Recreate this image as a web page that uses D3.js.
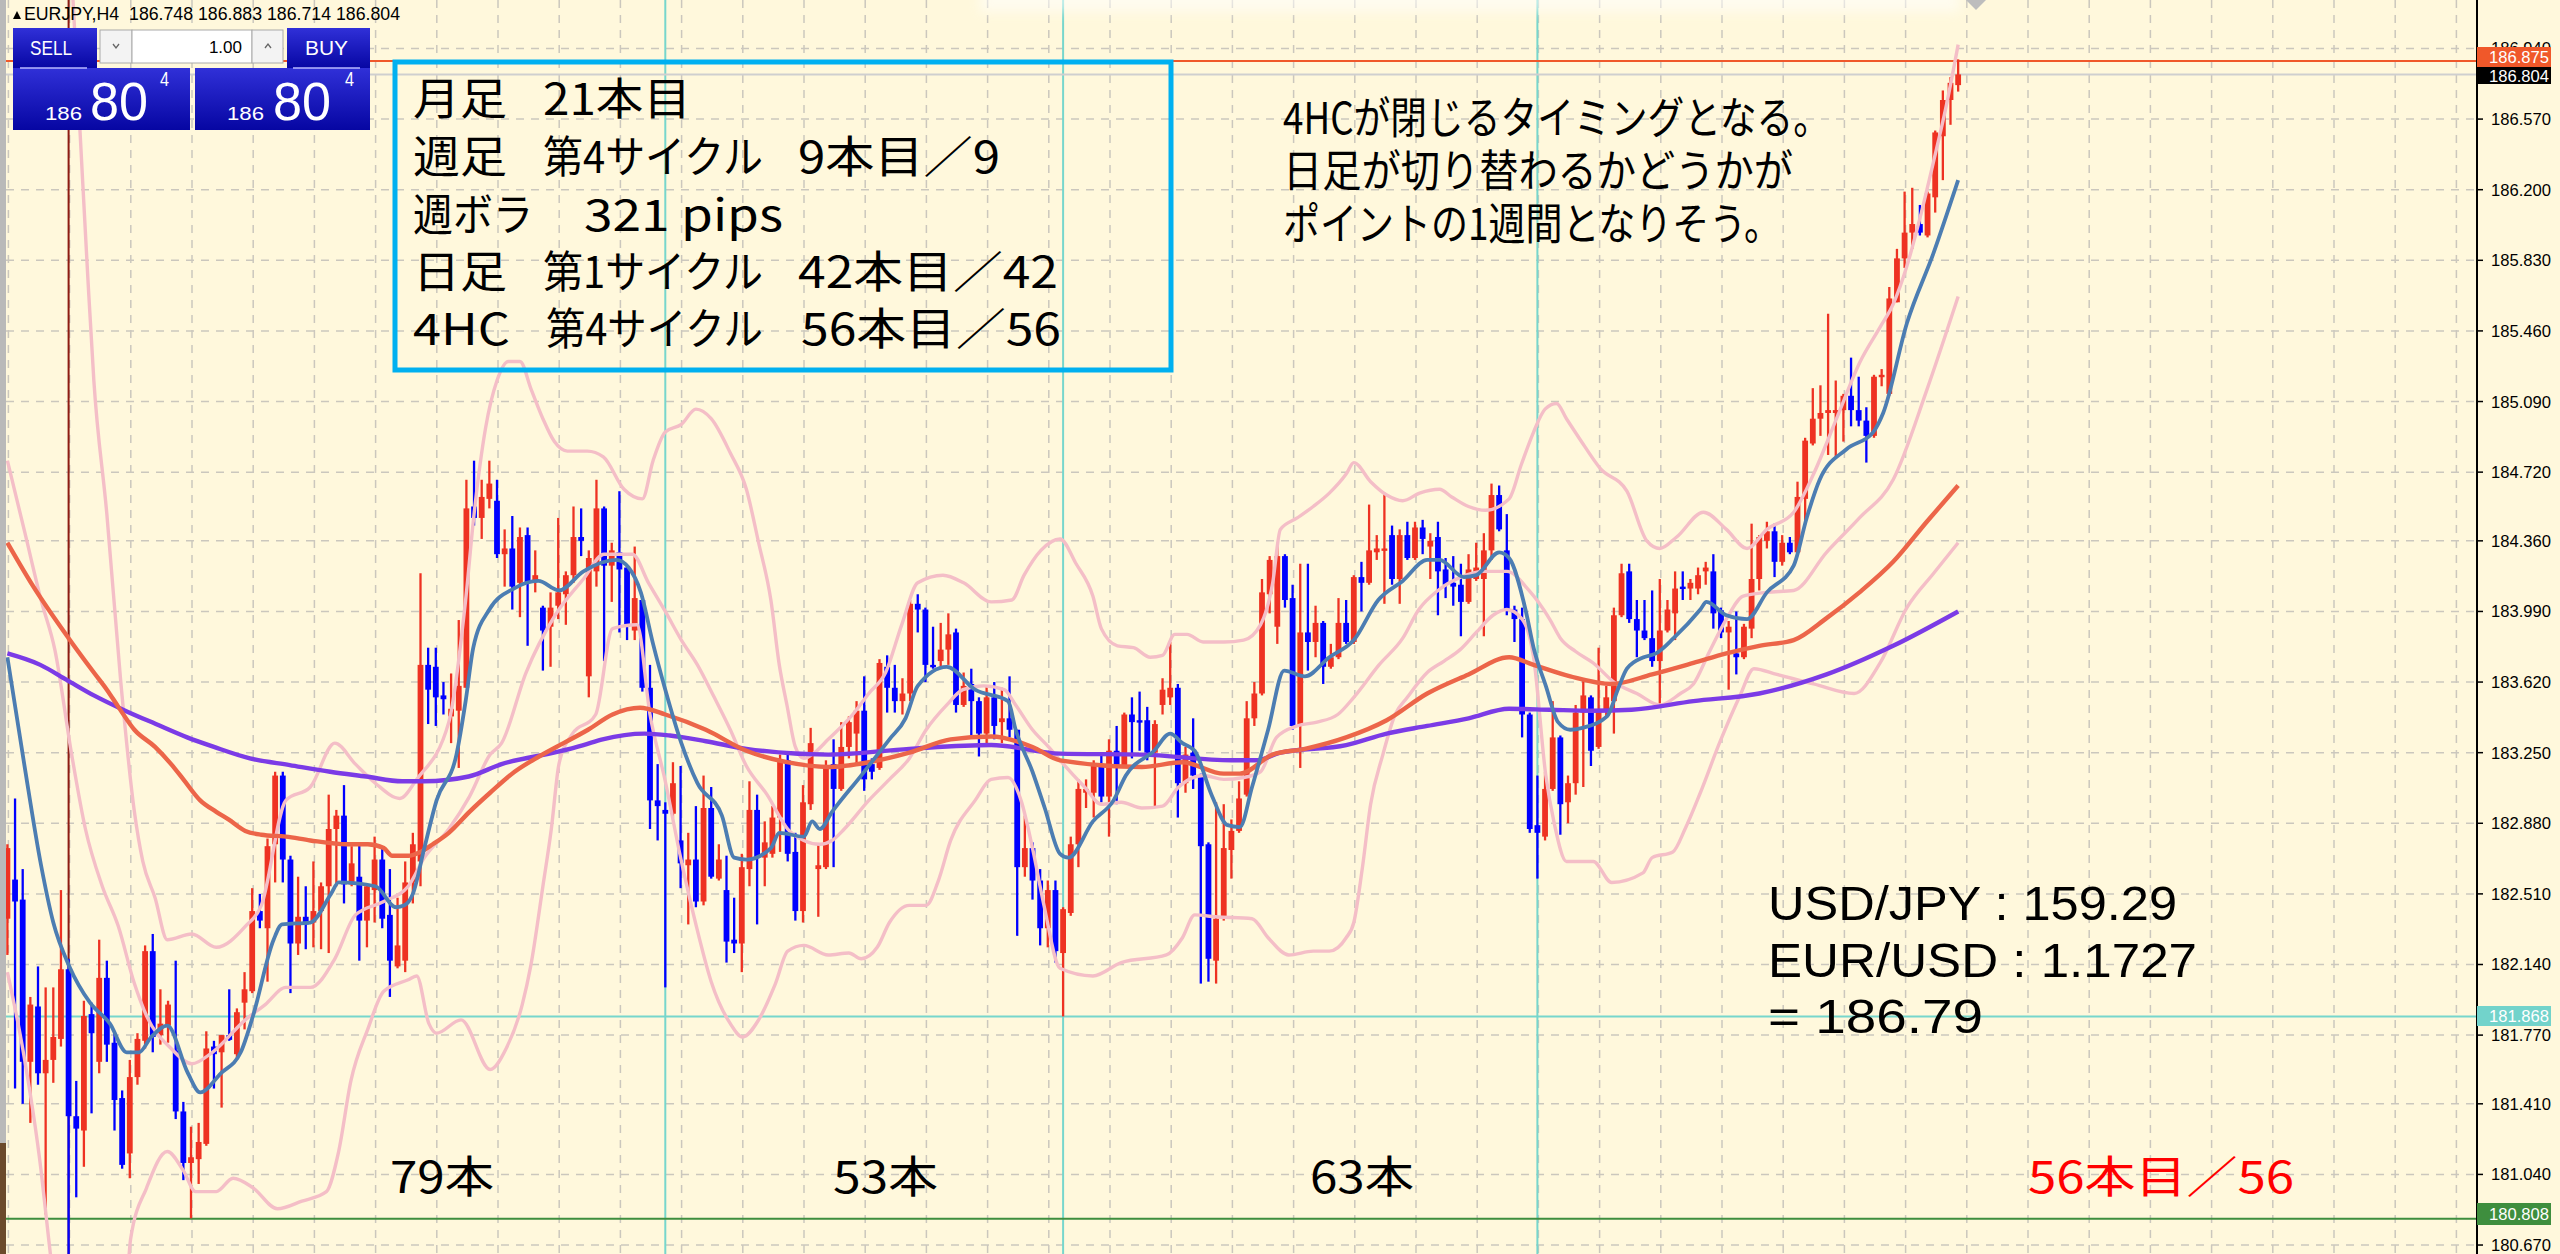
<!DOCTYPE html>
<html><head><meta charset="utf-8">
<script src="https://cdn.jsdelivr.net/npm/d3@7"></script>
<style>
html,body{margin:0;padding:0;background:#FFF8DC;overflow:hidden}
svg{display:block}
</style></head><body>
<svg id="c" width="2560" height="1254"></svg>
<script>
// ---------------- DATA ----------------
const symbolHeader = "EURJPY,H4  186.748 186.883 186.714 186.804";
const opens = [182.38,182.585,182.48,181.63,181.92,181.57,181.64,181.75,182.115,181.345,
181.27,181.88,181.63,182.07,181.73,181.44,181.15,181.55,181.74,182.21,
181.77,181.82,181.69,181.37,181.10,181.12,181.20,181.71,181.68,181.77,
181.67,181.94,182.00,182.42,182.33,182.77,183.13,182.69,182.25,182.39,
182.36,182.42,182.55,182.85,182.92,182.56,182.60,182.37,182.53,182.69,
182.40,182.13,182.16,182.57,182.68,183.71,183.70,183.55,183.44,183.47,
183.59,184.54,184.48,184.58,184.57,184.29,184.32,184.14,184.39,184.15,
184.01,183.91,184.02,184.08,184.18,184.38,183.65,184.20,184.53,184.23,
184.30,184.22,183.89,184.05,183.59,183.00,182.95,182.93,182.79,182.66,
182.69,182.47,182.96,182.59,182.53,182.27,182.25,182.64,182.95,182.70,
182.72,182.91,183.21,182.73,182.42,182.98,182.64,182.65,183.19,183.06,
183.28,183.35,183.47,183.19,183.17,183.70,183.59,183.52,183.56,184.03,
184.00,183.71,183.73,183.79,183.88,183.50,183.61,183.52,183.35,183.54,
183.41,183.43,183.37,182.65,182.75,182.58,182.33,182.53,182.20,182.41,
182.77,183.04,183.04,183.18,183.02,183.26,183.18,183.45,183.42,183.42,
183.25,183.50,183.54,183.59,183.09,183.25,183.13,182.77,182.16,182.38,
182.74,182.84,183.03,183.43,183.56,184.08,183.91,184.28,184.06,183.39,
183.88,183.83,183.93,183.70,183.75,183.93,183.83,184.17,184.14,184.30,
184.31,184.39,184.16,184.39,184.27,184.43,184.33,184.38,184.21,184.14,
184.13,184.04,184.16,184.16,184.31,184.60,184.31,184.00,183.95,183.45,
182.87,182.81,183.06,183.33,182.99,183.09,183.46,183.54,183.28,183.47,
183.52,183.97,184.20,183.95,183.89,183.85,183.73,183.89,183.98,184.12,
184.11,184.11,184.20,184.20,183.996,183.88,183.77,183.75,183.90,184.16,
184.36,184.41,184.25,184.35,184.30,184.58,184.87,185.00,185.03,185.03,
185.045,185.12,185.045,184.99,184.91,185.22,185.13,185.61,185.84,185.975,
186.02,185.96,186.16,186.48,186.67,186.748];
const highs = [182.77,183.01,182.64,181.97,182.13,182.02,182.02,182.53,182.17,181.53,
181.95,181.94,182.27,182.16,181.78,181.48,181.64,181.78,182.24,182.30,
182.01,181.95,182.16,181.42,181.29,181.31,181.79,181.74,181.77,182.01,
181.91,182.10,182.54,182.51,182.80,183.15,183.15,182.71,182.60,182.55,
182.68,182.57,183.03,182.95,183.08,182.76,182.77,182.56,182.81,182.75,
182.64,182.49,182.68,182.83,184.19,183.80,183.80,183.62,183.665,183.945,
184.68,184.78,184.68,184.78,184.68,184.42,184.49,184.43,184.43,184.31,
184.02,184.09,184.48,184.20,184.54,184.53,184.31,184.68,184.54,184.35,
184.62,184.23,184.33,184.07,183.71,183.19,182.99,183.20,183.18,182.83,
182.97,183.13,183.07,182.77,182.71,182.49,182.72,183.10,183.03,182.89,
182.97,183.24,183.24,182.83,183.08,183.38,182.77,183.21,183.32,183.41,
183.44,183.52,183.65,183.22,183.74,183.76,183.71,183.64,184.05,184.08,
184.01,183.91,183.93,183.98,183.90,183.67,183.69,183.54,183.60,183.62,
183.59,183.65,183.37,182.92,182.78,182.64,182.58,182.58,182.44,182.81,
183.11,183.11,183.21,183.25,183.32,183.39,183.46,183.54,183.57,183.49,
183.42,183.64,183.83,183.61,183.28,183.43,183.14,182.78,182.99,182.98,
182.90,183.10,183.52,183.62,184.16,184.28,184.34,184.29,184.13,184.24,
184.24,184.02,183.94,183.82,184.06,184.05,184.18,184.25,184.55,184.39,
184.61,184.44,184.42,184.46,184.46,184.47,184.40,184.46,184.27,184.28,
184.24,184.29,184.35,184.40,184.66,184.65,184.50,184.02,184.01,183.46,
183.13,183.15,183.52,183.34,183.13,183.50,183.63,183.55,183.80,183.60,
184.01,184.24,184.24,184.05,184.05,184.10,184.16,184.05,184.20,184.20,
184.16,184.22,184.25,184.29,184.01,183.94,183.99,183.925,184.45,184.39,
184.46,184.45,184.39,184.38,184.67,184.90,185.16,185.175,185.55,185.20,
185.13,185.32,185.22,185.06,185.23,185.26,185.69,185.89,186.19,186.21,
186.12,186.19,186.51,186.72,186.79,186.883];
const lows = [182.19,181.49,181.41,181.31,181.51,180.83,181.52,181.71,180.62,180.92,
181.08,181.36,181.57,181.63,181.27,181.07,181.02,181.51,181.70,181.68,
181.72,181.73,181.33,181.01,180.81,180.99,181.19,181.49,181.39,181.74,
181.65,181.80,181.99,182.33,182.05,182.57,182.57,181.99,182.19,182.22,
182.23,182.22,182.20,182.55,182.46,182.55,182.16,182.23,182.36,182.33,
181.97,182.12,182.10,182.46,182.55,183.40,183.39,183.45,183.30,183.17,
183.59,184.44,184.37,184.53,184.27,184.12,184.00,183.96,183.81,184.09,
183.68,183.70,183.95,183.92,184.14,184.28,183.54,184.12,183.73,184.04,
183.88,183.84,183.84,183.57,182.85,182.79,182.02,182.91,182.54,182.35,
182.44,182.45,182.59,182.58,182.15,182.20,182.10,182.55,182.35,182.55,
182.70,182.73,182.68,182.37,182.36,182.95,182.39,182.64,182.65,183.05,
183.22,183.18,183.05,183.11,183.16,183.46,183.46,183.45,183.52,183.88,
183.62,183.69,183.69,183.71,183.46,183.49,183.34,183.23,183.30,183.32,
183.30,183.33,182.29,182.60,182.48,182.24,182.23,182.15,181.868,182.395,
182.65,182.96,182.91,182.99,182.81,182.98,183.17,183.22,183.26,183.21,
182.97,183.45,183.50,182.91,183.04,183.06,182.04,182.05,182.04,182.37,
182.59,182.83,183.02,183.39,183.55,183.98,183.82,184.01,183.37,183.17,
183.68,183.75,183.61,183.69,183.74,183.82,183.82,183.99,184.13,184.26,
184.03,184.13,184.03,184.26,184.26,184.29,184.16,183.97,184.06,184.02,
183.86,184.03,184.15,183.86,184.26,184.41,183.97,183.83,183.33,182.83,
182.59,182.79,183.05,182.82,182.88,183.03,183.07,183.18,183.27,183.44,
183.35,183.96,183.93,183.75,183.84,183.70,183.50,183.88,183.84,184.05,
184.05,184.08,184.13,183.90,183.85,183.58,183.66,183.74,183.85,184.10,
184.32,184.17,184.23,184.29,184.29,184.45,184.86,184.91,184.81,184.80,
184.88,184.96,184.96,184.77,184.90,185.17,185.12,185.61,185.79,185.89,
185.96,185.95,186.08,186.25,186.54,186.714];
const closes = [182.75,182.47,181.63,181.93,181.57,181.64,181.76,182.115,181.345,181.28,
181.87,181.78,182.07,181.72,181.43,181.09,181.55,181.75,182.21,181.76,
181.83,181.93,181.37,181.10,181.13,181.21,181.70,181.67,181.77,181.745,
181.89,182.01,182.42,182.37,182.76,183.13,182.69,182.25,182.39,182.35,
182.42,182.55,182.85,182.92,182.56,182.67,182.37,182.55,182.69,182.38,
182.16,182.24,182.57,182.77,183.71,183.58,183.54,183.53,183.48,183.60,
184.53,184.48,184.59,184.66,184.29,184.32,184.12,184.38,184.14,184.18,
183.89,184.01,184.09,184.18,184.38,184.36,184.27,184.53,184.23,184.31,
184.21,183.91,184.06,183.59,183.00,182.97,182.93,183.09,182.67,182.69,
182.47,182.96,182.60,182.69,182.26,182.25,182.65,182.95,182.70,182.78,
182.91,183.21,182.72,182.42,182.99,183.30,182.66,183.17,183.06,183.28,
183.41,183.47,183.11,183.15,183.72,183.59,183.52,183.56,184.03,184.00,
183.71,183.70,183.79,183.87,183.50,183.60,183.52,183.35,183.54,183.39,
183.43,183.37,182.65,182.75,182.58,182.33,182.53,182.21,182.43,182.77,
183.06,183.06,183.18,183.02,183.26,183.18,183.45,183.41,183.41,183.25,
183.40,183.58,183.59,183.09,183.24,183.13,182.76,182.17,182.38,182.75,
182.84,183.01,183.43,183.56,184.09,184.26,184.28,184.05,183.39,183.88,
183.83,183.93,183.70,183.75,183.93,183.83,184.17,184.14,184.31,184.32,
184.32,184.16,184.39,184.27,184.43,184.37,184.36,184.20,184.13,184.12,
184.04,184.21,184.22,184.31,184.60,184.42,184.00,183.95,183.45,182.85,
182.83,183.06,183.33,182.98,183.09,183.46,183.55,183.26,183.475,183.54,
183.97,184.19,183.95,183.89,183.85,183.73,183.89,184.00,184.11,184.11,
184.14,184.18,184.22,183.98,183.88,183.91,183.75,183.91,184.16,184.38,
184.41,184.25,184.35,184.30,184.59,184.885,185.00,185.03,185.045,185.045,
185.12,185.045,184.99,184.91,185.22,185.23,185.63,185.84,185.975,186.02,
185.975,186.18,186.50,186.67,186.76,186.804];

// fast MA (steel blue) read at sample bars
const maFastBar = [0,2.2,4.4,6,8.1,10.8,13.4,15.6,17.2,18.8,20.9,23.6,25.2,27.9,30.5,32.1,34.8,35.9,39.6,42.3,43.3,48.1,50.8,51.9,53,54.5,56.1,58.7,59.9,60.9,63,66.2,69.4,72.1,75.3,79.6,81.2,82.8,84.4,86,88.1,90.2,93.4,95,96.6,99.8,100.9,104.1,105.2,106.2,107.8,111.6,115.3,117.4,119,122.8,126.5,130.8,131.8,134,135.6,137.6,138.7,141.9,144.6,146.2,149.9,152,153.6,155.2,157.4,159.5,161.1,162.7,164.8,166.9,169.6,172.8,176,179.2,182.4,185.6,187.2,190.4,192,195,196.3,198.5,199.5,201.1,202.7,204.3,205.9,209.1,210.6,211.7,213.9,215.5,217.8,221.3,222.1,224.7,227.4,230,233.5,235.2,236.9,240.4,243.9,245.2,248.3,251.8,255];
const maFastVal = [183.75,183.19,182.66,182.36,182.13,181.94,181.83,181.68,181.68,181.76,181.82,181.57,181.47,181.57,181.68,181.87,182.27,182.35,182.36,182.51,182.57,182.55,182.44,182.45,182.51,182.75,183.00,183.24,183.52,183.80,184.00,184.11,184.15,184.10,184.20,184.26,184.22,184.09,183.82,183.58,183.30,183.09,182.92,182.70,182.69,182.75,182.83,182.81,182.89,182.85,182.94,183.13,183.32,183.43,183.60,183.70,183.58,183.52,183.37,183.15,182.96,182.72,182.70,182.89,183.00,183.13,183.26,183.35,183.30,183.26,183.03,182.87,182.86,183.07,183.37,183.68,183.65,183.75,183.84,184.05,184.15,184.26,184.26,184.17,184.18,184.30,184.27,183.99,183.80,183.60,183.41,183.37,183.38,183.44,183.59,183.69,183.75,183.77,183.85,184.00,184.04,183.97,183.95,184.09,184.23,184.48,184.68,184.84,184.93,185.03,185.50,185.87,186.25];

// medium MA (orange)
const maMidBar = [0,3.4,8,11.3,13,14.5,16.6,19.3,21.4,23,25.2,27.3,28.9,31.1,33.2,36.4,39.6,44.4,47.1,49.2,50.3,52.4,54,55.6,57.7,60.4,63.1,66.3,69.5,72.7,75.9,79.1,82.7,86,91.3,96.6,101.9,107.3,112.6,117.9,123.3,128.6,134,137.6,148.3,153.6,159,161.1,165.4,169.6,175,180.3,185.6,191,196.3,199.5,204.3,209.7,215,220.4,224.7,229,233.5,237.8,242.1,246.5,250.9,255];
const maMidVal = [184.35,184.12,183.85,183.67,183.58,183.49,183.37,183.28,183.19,183.11,183.00,182.94,182.90,182.84,182.82,182.81,182.79,182.77,182.77,182.75,182.71,182.71,182.73,182.77,182.83,182.94,183.04,183.15,183.23,183.30,183.37,183.45,183.485,183.45,183.37,183.26,183.20,183.175,183.20,183.25,183.32,183.335,183.28,183.21,183.175,183.20,183.14,183.14,183.24,183.27,183.33,183.42,183.56,183.66,183.75,183.71,183.65,183.61,183.66,183.72,183.77,183.81,183.84,183.955,184.09,184.25,184.46,184.65];

// slow MA (purple)
const maSlowBar = [0,4.3,7.8,11.3,15.4,19.4,23.5,27,31.7,36.9,42.2,46.9,51.6,54.5,60.3,64.6,72,75.3,77.8,83.3,86.6,91.3,96.6,107.3,117.9,128.6,137.6,148.3,160,163.2,166.4,175,180.3,185.6,191,196.3,201.6,207,212.3,220.4,229,237.8,246.5,255];
const maSlowVal = [183.77,183.71,183.63,183.55,183.47,183.40,183.33,183.28,183.22,183.185,183.15,183.125,183.10,183.10,183.125,183.19,183.255,183.29,183.32,183.35,183.34,183.31,183.27,183.24,183.27,183.29,183.245,183.24,183.21,183.21,183.25,183.29,183.35,183.39,183.43,183.48,183.475,183.47,183.475,183.52,183.56,183.66,183.81,183.99];

// Bollinger band lines (pink): upper, middle, lower
const bbUpBar = [8.3,9.5,10.5,11.3,13,14.8,16.6,17.7,19.3,20.9,24.1,27.3,31.1,33.2,36.4,39.6,42.8,45.5,48.1,51.3,53.5,57.7,59.9,61,62.5,64,65.5,67,68.5,70,71.5,73.2,75.8,77.9,80.6,83,84.4,86,88.1,90,92,94.5,96.6,98.2,99.8,100.9,101.9,103,104.1,105.5,107.3,110.5,112.6,114.8,116.9,119,122.3,125,128.6,131.3,132.9,135.1,137.6,139.7,141.9,143,145.1,147.2,149.4,151,152.6,154.2,156.3,159,161.6,163.8,165.4,166.4,168.6,170.7,172.8,175,176,178.2,180.3,182.4,184.6,187.2,188.8,191,193.2,196.3,197.9,199.5,201,202.5,203.8,205.6,208.2,211.7,214.3,216,218.2,221.7,224.7,227.4,230,233.5,236.1,239.1,242.2,244.8,246.5,248.3,250,251.8,253.5,255];
const bbUpVal = [187.4,186.5,185.75,185.20,184.50,183.63,182.94,182.68,182.49,182.27,182.30,182.23,182.34,182.45,183.0,183.07,183.30,183.19,183.09,183.01,183.11,183.41,184.05,184.5,184.95,185.2,185.3,185.3,185.15,185.0,184.88,184.83,184.83,184.80,184.63,184.58,184.78,184.93,184.97,185.05,185.0,184.82,184.63,184.35,184.05,183.71,183.50,183.28,183.22,183.25,183.32,183.45,183.56,183.67,183.92,184.14,184.18,184.14,184.04,184.05,184.18,184.31,184.37,184.24,184.07,183.90,183.81,183.80,183.75,183.76,183.87,183.87,183.83,183.83,183.84,183.92,184.14,184.42,184.48,184.54,184.61,184.71,184.77,184.67,184.60,184.57,184.61,184.63,184.59,184.54,184.52,184.58,184.76,184.93,185.05,185.08,185.0,184.89,184.74,184.62,184.36,184.32,184.38,184.51,184.42,184.32,184.42,184.51,184.71,185.0,185.3,185.48,185.6,185.8,186.05,186.35,186.65,186.96];
const bbMidBar = [0,2.3,4.4,6.2,8.4,10.2,12.4,14.5,16.6,18.2,21.4,24.1,26.8,31.1,33.7,36.4,39.6,42.8,45.5,49.2,52.4,54.5,57.7,60.4,63.1,64.6,67.8,71.6,75.3,78,81.7,83.8,86,88.1,90.2,92.4,94.5,96.6,99.3,102,104.1,106.2,107.8,109.4,112.6,115.3,117.9,120.1,122.8,124.9,127.6,130.3,131.8,134,136.1,137.6,140.8,143,145.6,148.3,151,153.1,156.3,159,161.6,163.8,165.9,168.6,171.2,173.9,176,179.3,182.4,184.5,187,190,193,196,198.9,201.6,203,205,207.3,210,213,216,218.7,220.4,222.5,224.7,226.9,230,233.5,237.8,242.1,246.5,250.9,255];
const bbMidVal = [184.78,184.40,184.05,183.79,183.24,182.85,182.55,182.34,182.04,181.87,181.70,181.62,181.68,181.85,181.93,182.02,182.02,182.17,182.40,182.47,182.55,182.70,182.85,183.02,183.24,183.30,183.67,183.97,184.16,184.29,184.29,184.14,183.99,183.84,183.71,183.54,183.37,183.18,183.03,182.85,182.79,182.77,182.79,182.85,183.00,183.11,183.22,183.37,183.50,183.58,183.60,183.58,183.50,183.37,183.28,183.21,183.07,182.98,182.99,182.96,182.97,183.07,183.13,183.11,183.12,183.15,183.33,183.39,183.41,183.45,183.54,183.71,183.85,184.0,184.1,184.17,184.2,184.2,184.1,183.95,183.85,183.78,183.72,183.62,183.56,183.50,183.56,183.61,183.78,183.95,184.07,184.09,184.10,184.30,184.48,184.68,185.15,185.64];
const bbLowBar = [0,2,4.4,5.4,7,12,15.5,16.1,18.2,20.9,23,24.6,27.3,29.5,32.1,35.3,38.5,41.7,43.3,44.9,47.1,49.2,52.4,53.5,55.1,56.1,59.3,63.1,65.2,67.3,68.4,70,71.1,72.1,73.7,76.9,79.1,82.3,84,86,88,90,92,94.5,96.1,98.2,100.4,102,104.1,107.3,110,111.6,113.7,115.3,117.9,120.1,121.7,123.3,126.5,128.6,130.8,132.5,134,135.5,137.6,141.9,145.6,151.5,153.6,155.2,157.9,162.7,164.8,167.5,170.7,172.8,175,176,177.1,178.2,179.8,181.4,183,185.6,187.8,189.9,192,194.2,196,198,199.5,201.1,202.2,203.8,207.3,209.7,213.8,215,217.7,219.3,221.3,223.9,226.5,228.3,231.3,236.1,241.4,244.8,248.3,251.8,255];
const bbLowVal = [182.1,181.7,181.06,180.7,180.2,179.8,180.4,180.70,180.97,181.16,181.06,180.95,180.95,181.02,180.97,180.86,180.90,180.95,181.16,181.53,181.80,182.00,182.06,182.08,181.83,181.78,181.85,181.59,181.70,181.93,182.13,182.55,182.85,183.19,183.34,183.45,183.90,183.92,183.45,183.1,182.7,182.35,182.05,181.83,181.76,181.85,182.04,182.21,182.24,182.19,182.20,182.17,182.23,182.36,182.45,182.45,182.58,182.79,183.00,183.11,183.12,183.0,182.75,182.45,182.12,182.08,182.15,182.19,182.28,182.40,182.39,182.38,182.28,182.19,182.21,182.21,182.28,182.36,182.64,182.98,183.24,183.45,183.54,183.67,183.73,183.79,183.88,183.97,184.0,183.95,183.75,183.13,182.88,182.68,182.68,182.57,182.62,182.70,182.73,182.85,183.04,183.31,183.55,183.69,183.66,183.61,183.56,183.72,184.01,184.19,184.35];

// right axis tick labels
const tickLabels = ["186.940","186.570","186.200","185.830","185.460","185.090","184.720","184.360","183.990","183.620","183.250","182.880","182.510","182.140","181.770","181.410","181.040","180.670"];

// marker lines
const cycleBars = [86, 138, 200];
const startBar = 8;
const hLines = [{p:186.875,c:"#F0582A"},{p:186.804,c:"#cfcfcf"},{p:181.868,c:"#77D6CC"},{p:180.808,c:"#3E8E3E"}];

const boxLines = [
  [["月足",413,94],["21本目",543,148]],
  [["週足",413,94],["第4サイクル",543,220],["9本目／9",798,202]],
  [["週ボラ",413,120],["321 pips",584,199]],
  [["日足",413,94],["第1サイクル",543,220],["42本目／42",798,260]],
  [["4HC",413,97],["第4サイクル",546,217],["56本目／56",801,260]]
];
const noteLines = [["4HCが閉じるタイミングとなる。",547],["日足が切り替わるかどうかが",510],["ポイントの1週間となりそう。",498]];
const rateLines = [["USD/JPY : 159.29",409],["EUR/USD : 1.1727",429],["= 186.79",215]];
const cycleLabels = [["79本",390,104,"#000"],["53本",833,105,"#000"],["63本",1310,104,"#000"],["56本目／56",2028,266,"#FF0000"]];

// ---------------- DRAW ----------------
const svg = d3.select("#c");
const W=2560,H=1254, plotL=6, plotR=2477;
const x = d3.scaleLinear().domain([0,255]).range([7.4, 7.4+7.65*255]);
const y = d3.scaleLinear().domain([180.623,187.194]).range([H,0]);
const CJK = "'Noto Sans CJK JP','Noto Sans CJK SC',sans-serif";
const LAT = "'Liberation Sans',Arial,sans-serif";

const defs = svg.append("defs");
defs.append("clipPath").attr("id","plot").append("rect").attr("x",plotL).attr("y",0).attr("width",plotR-plotL).attr("height",H);
const g1 = defs.append("linearGradient").attr("id","btn").attr("x1",0).attr("y1",0).attr("x2",0).attr("y2",1);
g1.append("stop").attr("offset","0%").attr("stop-color","#3030d8");
g1.append("stop").attr("offset","100%").attr("stop-color","#0606a2");
const blur = defs.append("filter").attr("id","blur").attr("x","-20%").attr("y","-100%").attr("width","140%").attr("height","300%");
blur.append("feGaussianBlur").attr("stdDeviation",6);

svg.append("rect").attr("width",W).attr("height",H).attr("fill","#FFF8DC");
svg.append("rect").attr("x",0).attr("y",0).attr("width",plotL).attr("height",H).attr("fill","#b9b9b9");
svg.append("rect").attr("x",0).attr("y",1143).attr("width",plotL).attr("height",H-1143).attr("fill","#6b4a2c");

const plot = svg.append("g").attr("clip-path","url(#plot)");

// grid
const gridBars = d3.range(0, 330, 8);
plot.append("g").selectAll("line").data(gridBars).join("line")
  .attr("x1",d=>x(d)+1).attr("x2",d=>x(d)+1).attr("y1",0).attr("y2",H)
  .attr("stroke","#cbc7bd").attr("stroke-width",1.5).attr("stroke-dasharray","8,7");
plot.append("g").selectAll("line").data(tickLabels).join("line")
  .attr("x1",plotL).attr("x2",plotR).attr("y1",d=>y(+d)).attr("y2",d=>y(+d))
  .attr("stroke","#cbc7bd").attr("stroke-width",1.5).attr("stroke-dasharray","8,7");

// object lines
plot.append("line").attr("x1",x(startBar)).attr("x2",x(startBar)).attr("y1",0).attr("y2",H).attr("stroke","#8e1b12").attr("stroke-width",2);
plot.append("g").selectAll("line").data(cycleBars).join("line")
  .attr("x1",d=>x(d)).attr("x2",d=>x(d)).attr("y1",0).attr("y2",H).attr("stroke","#77D6CC").attr("stroke-width",2);
plot.append("g").selectAll("line").data(hLines).join("line")
  .attr("x1",plotL).attr("x2",plotR).attr("y1",d=>y(d.p)).attr("y2",d=>y(d.p)).attr("stroke",d=>d.c).attr("stroke-width",2);

// candles
const bars = d3.range(opens.length).map(i=>({i,o:opens[i],h:highs[i],l:lows[i],c:closes[i]}));
const col = d => d.c >= d.o ? "#EE3222" : "#0000FF";
const cg = plot.append("g");
cg.selectAll("line").data(bars).join("line")
  .attr("x1",d=>x(d.i)).attr("x2",d=>x(d.i)).attr("y1",d=>y(d.h)).attr("y2",d=>y(d.l))
  .attr("stroke",col).attr("stroke-width",2.3);
cg.selectAll("rect").data(bars).join("rect")
  .attr("x",d=>x(d.i)-2.9).attr("width",5.8)
  .attr("y",d=>y(Math.max(d.o,d.c)))
  .attr("height",d=>Math.max(2.4,Math.abs(y(d.o)-y(d.c))))
  .attr("fill",col);

// indicator lines
const lineGen = d3.line().x(d=>x(d[0])).y(d=>y(d[1])).curve(d3.curveMonotoneX);
function drawLine(bs, vs, color, w){
  plot.append("path").datum(bs.map((b,i)=>[b,vs[i]]))
    .attr("d",lineGen).attr("fill","none").attr("stroke",color).attr("stroke-width",w)
    .attr("stroke-linejoin","round");
}
drawLine(bbUpBar,bbUpVal,"#F4BEC7",3.4);
drawLine(bbMidBar,bbMidVal,"#F4BEC7",3.4);
drawLine(bbLowBar,bbLowVal,"#F4BEC7",3.4);
drawLine(maSlowBar,maSlowVal,"#7B3BE6",4.4);
drawLine(maMidBar,maMidVal,"#EC6549",4.4);
drawLine(maFastBar,maFastVal,"#4C7DB2",3.8);

// top overlays
svg.append("rect").attr("x",980).attr("y",-10).attr("width",980).attr("height",22).attr("fill","#ffffff").attr("opacity",0.55).attr("filter","url(#blur)");
svg.append("path").attr("d","M1966,0 L1986,0 L1976,10 Z").attr("fill","#bdbdbd");

// right axis
svg.append("line").attr("x1",plotR).attr("x2",plotR).attr("y1",0).attr("y2",H).attr("stroke","#000").attr("stroke-width",2);
const ax = svg.append("g");
ax.selectAll("line").data(tickLabels).join("line")
  .attr("x1",plotR).attr("x2",plotR+6).attr("y1",d=>y(+d)).attr("y2",d=>y(+d)).attr("stroke","#000").attr("stroke-width",1.5);
ax.selectAll("text").data(tickLabels.slice(1)).join("text")
  .attr("x",2491).attr("y",d=>y(+d)+6).text(d=>d)
  .attr("font-family",LAT).attr("font-size",16.5).attr("fill","#000")
  .attr("textLength",60).attr("lengthAdjust","spacingAndGlyphs");
// top label partly hidden behind the price box (clipped to show its upper part)
defs.append("clipPath").attr("id","topLbl").append("rect").attr("x",2480).attr("y",30).attr("width",80).attr("height",17);
svg.append("text").attr("clip-path","url(#topLbl)").attr("x",2491).attr("y",y(+tickLabels[0])+6).text(tickLabels[0])
  .attr("font-family",LAT).attr("font-size",16.5).attr("fill","#000")
  .attr("textLength",60).attr("lengthAdjust","spacingAndGlyphs");
// price boxes
const boxes = [
  {p:186.875,y0:47,h:20,fill:"#F0582A"},
  {p:186.804,y0:67,h:17,fill:"#000000"},
  {p:181.868,y0:1006,h:20,fill:"#72D3CB"},
  {p:180.808,y0:1203,h:22,fill:"#3E8E3E"}
];
const bx = svg.append("g");
bx.selectAll("rect").data(boxes).join("rect")
  .attr("x",2477).attr("y",d=>d.y0).attr("width",74).attr("height",d=>d.h).attr("fill",d=>d.fill);
bx.selectAll("text").data(boxes).join("text")
  .attr("x",2489).attr("y",d=>d.y0+d.h/2+6).text(d=>d.p.toFixed(3))
  .attr("font-family",LAT).attr("font-size",16.5).attr("fill","#fff")
  .attr("textLength",60).attr("lengthAdjust","spacingAndGlyphs");

// header
svg.append("path").attr("d","M13,19 L17,11 L21,19 Z").attr("fill","#000");
svg.append("text").attr("x",24).attr("y",20).text(symbolHeader)
  .attr("font-family",LAT).attr("font-size",17.5).attr("fill","#000")
  .attr("textLength",376).attr("lengthAdjust","spacingAndGlyphs").attr("xml:space","preserve");

// trade panel
const tp = svg.append("g");
tp.append("rect").attr("x",13).attr("y",28).attr("width",84).attr("height",41).attr("fill","url(#btn)");
tp.append("rect").attr("x",13).attr("y",68).attr("width",177).attr("height",62).attr("fill","url(#btn)");
tp.append("rect").attr("x",287).attr("y",28).attr("width",83).attr("height",41).attr("fill","url(#btn)");
tp.append("rect").attr("x",195).attr("y",68).attr("width",175).attr("height",62).attr("fill","url(#btn)");
tp.append("line").attr("x1",20).attr("x2",87).attr("y1",68).attr("y2",68).attr("stroke","#b8b8ff").attr("stroke-width",1.5);
tp.append("line").attr("x1",293).attr("x2",360).attr("y1",68).attr("y2",68).attr("stroke","#b8b8ff").attr("stroke-width",1.5);
const wt = (t,xx,yy,fs,tl)=>tp.append("text").attr("x",xx).attr("y",yy).text(t).attr("font-family",LAT).attr("font-size",fs).attr("fill","#fff").attr("textLength",tl).attr("lengthAdjust","spacingAndGlyphs");
wt("SELL",30,55,21,42); wt("BUY",305,55,21,43);
wt("186",45,120,19,37); wt("80",90,120,54,58); wt("4",160,86,21,9);
wt("186",227,120,19,37); wt("80",273,120,54,58); wt("4",345,86,21,9);
tp.append("rect").attr("x",100).attr("y",30).attr("width",32).attr("height",33).attr("fill","#f3f3f3").attr("stroke","#aaa");
tp.append("rect").attr("x",132).attr("y",30).attr("width",120).attr("height",33).attr("fill","#fff").attr("stroke","#aaa");
tp.append("rect").attr("x",252).attr("y",30).attr("width",31).attr("height",33).attr("fill","#f3f3f3").attr("stroke","#aaa");
tp.append("path").attr("d","M113,44 L116,48 L119,44").attr("fill","none").attr("stroke","#666").attr("stroke-width",1.3);
tp.append("path").attr("d","M265,48 L268,44 L271,48").attr("fill","none").attr("stroke","#666").attr("stroke-width",1.3);
tp.append("text").attr("x",242).attr("y",53).attr("text-anchor","end").text("1.00").attr("font-family",LAT).attr("font-size",17).attr("fill","#000");

// annotation box
svg.append("rect").attr("x",395).attr("y",62).attr("width",776).attr("height",308).attr("fill","none").attr("stroke","#00B0F0").attr("stroke-width",5);
const baseY = [115,173,231,288,345];
boxLines.forEach((segs,li)=>{
  segs.forEach(s=>{
    svg.append("text").attr("x",s[1]).attr("y",baseY[li]).text(s[0])
      .attr("font-family",CJK).attr("font-size",44).attr("fill","#000")
      .attr("textLength",s[2]).attr("lengthAdjust","spacingAndGlyphs");
  });
});
// note text
noteLines.forEach((l,i)=>{
  svg.append("text").attr("x",1283).attr("y",134+i*53).text(l[0])
    .attr("font-family",CJK).attr("font-size",44).attr("fill","#000")
    .attr("textLength",l[1]).attr("lengthAdjust","spacingAndGlyphs");
});
rateLines.forEach((l,i)=>{
  svg.append("text").attr("x",1768).attr("y",920+i*56.5).text(l[0])
    .attr("font-family",LAT).attr("font-size",48).attr("fill","#000")
    .attr("textLength",l[1]).attr("lengthAdjust","spacingAndGlyphs").attr("xml:space","preserve");
});
cycleLabels.forEach(l=>{
  svg.append("text").attr("x",l[1]).attr("y",1193).text(l[0])
    .attr("font-family",CJK).attr("font-size",44).attr("fill",l[3])
    .attr("textLength",l[2]).attr("lengthAdjust","spacingAndGlyphs");
});
</script>
</body></html>
